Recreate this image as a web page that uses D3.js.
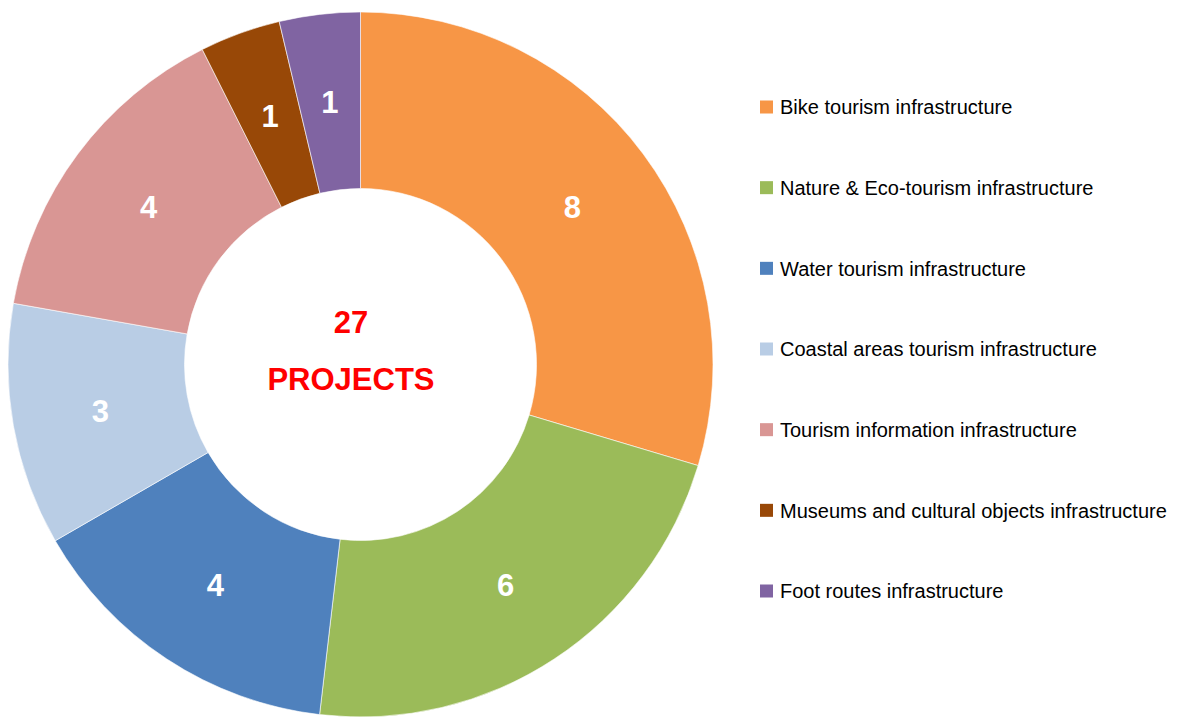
<!DOCTYPE html>
<html>
<head>
<meta charset="utf-8">
<script src="https://cdn.jsdelivr.net/npm/d3@7"></script>
<style>
  html, body { margin: 0; padding: 0; background: #fff; }
  svg { display: block; }
</style>
</head>
<body>
<svg id="chart" width="1181" height="718"></svg>
<script>
const categories = [
  "Bike tourism infrastructure",
  "Nature & Eco-tourism infrastructure",
  "Water tourism infrastructure",
  "Coastal areas tourism infrastructure",
  "Tourism information infrastructure",
  "Museums and cultural objects infrastructure",
  "Foot routes infrastructure"
];
const values = [8, 6, 4, 3, 4, 1, 1];
const colors = ["#F79646", "#9BBB59", "#4F81BD", "#B9CDE5", "#D99694", "#984807", "#8064A2"];
const centerLines = ["27", "PROJECTS"];

const svg = d3.select("#chart");
const cx = 360.5, cy = 364.5, outerR = 352.5, innerR = 176;

const pie = d3.pie().sort(null).value(d => d.v);
const arcs = pie(values.map((v, i) => ({ v, name: categories[i], color: colors[i] })));
const arc = d3.arc().innerRadius(innerR).outerRadius(outerR);

const g = svg.append("g").attr("transform", `translate(${cx},${cy})`);
g.selectAll("path.slice")
  .data(arcs)
  .enter().append("path")
  .attr("class", "slice")
  .attr("d", arc)
  .attr("fill", d => d.data.color)
  .attr("stroke", "#fff")
  .attr("stroke-width", 0.6);

g.selectAll("text.val")
  .data(arcs)
  .enter().append("text")
  .attr("class", "val")
  .attr("transform", d => `translate(${arc.centroid(d)})`)
  .attr("text-anchor", "middle")
  .attr("dy", "0.36em")
  .attr("fill", "#fff")
  .attr("font-family", "Liberation Sans, Arial, sans-serif")
  .attr("font-weight", "bold")
  .attr("font-size", 31)
  .text(d => d.data.v);

// center text
svg.append("text")
  .attr("x", 351).attr("y", 333)
  .attr("text-anchor", "middle")
  .attr("fill", "#FF0000")
  .attr("font-family", "Liberation Sans, Arial, sans-serif")
  .attr("font-weight", "bold")
  .attr("font-size", 31)
  .text(centerLines[0]);
svg.append("text")
  .attr("x", 351).attr("y", 390)
  .attr("text-anchor", "middle")
  .attr("fill", "#FF0000")
  .attr("font-family", "Liberation Sans, Arial, sans-serif")
  .attr("font-weight", "bold")
  .attr("font-size", 31)
  .text(centerLines[1]);

// legend
const legendY = d3.scalePoint().domain(categories).range([107, 591]);
const lg = svg.append("g");
const items = lg.selectAll("g.item").data(arcs).enter().append("g")
  .attr("class", "item")
  .attr("transform", d => `translate(760,${legendY(d.data.name)})`);
items.append("rect")
  .attr("x", 0).attr("y", -6.5)
  .attr("width", 13).attr("height", 13)
  .attr("fill", d => d.data.color);
items.append("text")
  .attr("x", 20).attr("y", 0)
  .attr("dy", "0.36em")
  .attr("fill", "#000")
  .attr("font-family", "Liberation Sans, Arial, sans-serif")
  .attr("font-size", 20)
  .text(d => d.data.name);
</script>
</body>
</html>
